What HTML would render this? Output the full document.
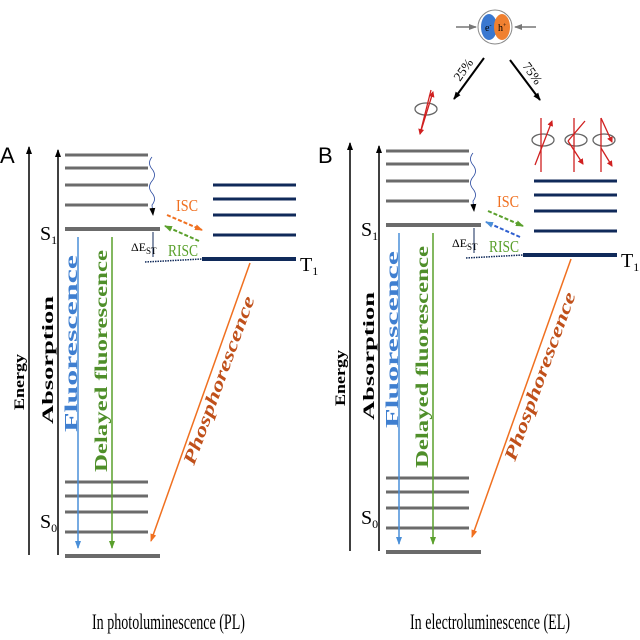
<!DOCTYPE html>
<html><head><meta charset="utf-8"><style>
html,body{margin:0;padding:0;background:#fff;width:640px;height:640px;overflow:hidden;}
svg{display:block;font-family:"Liberation Serif",serif;}
</style></head><body>
<svg width="640" height="640" viewBox="0 0 640 640">
<defs>
<marker id="ab" markerWidth="8" markerHeight="8" refX="7" refY="4" orient="auto" markerUnits="userSpaceOnUse"><path d="M0,1 L8,4 L0,7 Z" fill="#000"/></marker>
<marker id="abl" markerWidth="8" markerHeight="8" refX="7" refY="4" orient="auto" markerUnits="userSpaceOnUse"><path d="M0,1 L8,4 L0,7 Z" fill="#4a8fd8"/></marker>
<marker id="ag" markerWidth="8" markerHeight="8" refX="7" refY="4" orient="auto" markerUnits="userSpaceOnUse"><path d="M0,1 L8,4 L0,7 Z" fill="#5aa02c"/></marker>
<marker id="ao" markerWidth="8" markerHeight="8" refX="7" refY="4" orient="auto" markerUnits="userSpaceOnUse"><path d="M0,1 L8,4 L0,7 Z" fill="#f07020"/></marker>
<marker id="ar" markerWidth="6" markerHeight="6" refX="5" refY="3" orient="auto" markerUnits="userSpaceOnUse"><path d="M0,0 L6,3 L0,6 Z" fill="#d02020"/></marker>
<marker id="agr" markerWidth="8" markerHeight="8" refX="7" refY="4" orient="auto" markerUnits="userSpaceOnUse"><path d="M0,1 L8,4 L0,7 Z" fill="#777"/></marker>
</defs>

<g>
  <line x1="29" y1="555" x2="29" y2="147" stroke="#000" stroke-width="1.5" marker-end="url(#ab)"/>
  <line x1="58" y1="555" x2="58" y2="150" stroke="#000" stroke-width="1.5" marker-end="url(#ab)"/>
  <text transform="translate(24,410) rotate(-90)" font-size="15" font-weight="bold" textLength="56" lengthAdjust="spacingAndGlyphs">Energy</text>
  <text transform="translate(53,424) rotate(-90)" font-size="16" font-weight="bold" textLength="128" lengthAdjust="spacingAndGlyphs">Absorption</text>
  <g stroke="#6b6b6b" stroke-width="3">
    <line x1="65" y1="155" x2="148" y2="155"/><line x1="65" y1="168" x2="148" y2="168"/>
    <line x1="65" y1="185" x2="148" y2="185"/><line x1="65" y1="205" x2="148" y2="205"/>
    <line x1="65" y1="229" x2="160" y2="229" stroke-width="4"/>
    <line x1="65" y1="482" x2="148" y2="482"/><line x1="65" y1="496" x2="148" y2="496"/>
    <line x1="65" y1="512" x2="148" y2="512"/><line x1="65" y1="532" x2="148" y2="532"/>
    <line x1="65" y1="556" x2="160" y2="556" stroke-width="4"/>
  </g>
  <text x="40" y="240" font-size="20">S<tspan font-size="12" dy="4">1</tspan></text>
  <text x="40" y="528" font-size="20">S<tspan font-size="12" dy="4">0</tspan></text>
  <path d="M152,157 q-5,6 0,12 q5,6 0,12 q-5,6 0,12 q5,6 0,12 l1,10" fill="none" stroke="#2a4aa0" stroke-width="0.8" marker-end="url(#ab)"/>
  <line x1="78" y1="237" x2="78" y2="548" stroke="#4a8fd8" stroke-width="1.5" marker-end="url(#abl)"/>
  <line x1="112" y1="237" x2="112" y2="548" stroke="#5aa02c" stroke-width="1.5" marker-end="url(#ag)"/>
  <text transform="translate(77,432) rotate(-90)" font-size="18" font-weight="bold" fill="#3f7fd0" textLength="177" lengthAdjust="spacingAndGlyphs">Fluorescence</text>
  <text transform="translate(107,472) rotate(-90)" font-size="18" font-weight="bold" fill="#4f8f2a" textLength="222" lengthAdjust="spacingAndGlyphs">Delayed fluorescence</text>
  <g stroke="#102a5a" stroke-width="3">
    <line x1="213" y1="185" x2="296" y2="185"/><line x1="213" y1="199" x2="296" y2="199"/>
    <line x1="213" y1="215" x2="296" y2="215"/><line x1="213" y1="235" x2="296" y2="235"/>
    <line x1="202" y1="259" x2="296" y2="259" stroke-width="4"/>
  </g>
  <text x="300" y="271" font-size="20">T<tspan font-size="12" dy="4">1</tspan></text>
  <line x1="145" y1="262" x2="202" y2="259" stroke="#102a5a" stroke-width="1.5" stroke-dasharray="1.5,1"/>
  <line x1="153" y1="232" x2="153" y2="257" stroke="#102a5a" stroke-width="1"/>
  <text x="131" y="251" font-size="12">ΔE<tspan font-size="9" dy="3">ST</tspan></text>
  <line x1="167" y1="215" x2="202" y2="230" stroke="#f07020" stroke-width="2" stroke-dasharray="4,2" marker-end="url(#ao)"/>
  <line x1="199" y1="241" x2="165" y2="226" stroke="#5aa02c" stroke-width="2" stroke-dasharray="4,2" marker-end="url(#ag)"/>
  <text x="176" y="211" font-size="17" fill="#f07020" textLength="22" lengthAdjust="spacingAndGlyphs">ISC</text>
  <text x="168" y="256" font-size="17" fill="#5aa02c" textLength="30" lengthAdjust="spacingAndGlyphs">RISC</text>
  <line x1="250" y1="263" x2="151" y2="541" stroke="#f07020" stroke-width="1.5" marker-end="url(#ao)"/>
  <text transform="translate(194,466) rotate(-70)" font-size="18" font-weight="bold" font-style="italic" fill="#c0501a" textLength="178" lengthAdjust="spacingAndGlyphs">Phosphorescence</text>
</g>
<text x="0" y="163" font-family="Liberation Sans,sans-serif" font-size="22">A</text>
<text x="92" y="629" font-size="22" textLength="153" lengthAdjust="spacingAndGlyphs">In photoluminescence (PL)</text>

<g transform="translate(321,-4)">
  <line x1="29" y1="555" x2="29" y2="147" stroke="#000" stroke-width="1.5" marker-end="url(#ab)"/>
  <line x1="58" y1="555" x2="58" y2="150" stroke="#000" stroke-width="1.5" marker-end="url(#ab)"/>
  <text transform="translate(24,410) rotate(-90)" font-size="15" font-weight="bold" textLength="56" lengthAdjust="spacingAndGlyphs">Energy</text>
  <text transform="translate(53,424) rotate(-90)" font-size="16" font-weight="bold" textLength="128" lengthAdjust="spacingAndGlyphs">Absorption</text>
  <g stroke="#6b6b6b" stroke-width="3">
    <line x1="65" y1="155" x2="148" y2="155"/><line x1="65" y1="168" x2="148" y2="168"/>
    <line x1="65" y1="185" x2="148" y2="185"/><line x1="65" y1="205" x2="148" y2="205"/>
    <line x1="65" y1="229" x2="160" y2="229" stroke-width="4"/>
    <line x1="65" y1="482" x2="148" y2="482"/><line x1="65" y1="496" x2="148" y2="496"/>
    <line x1="65" y1="512" x2="148" y2="512"/><line x1="65" y1="532" x2="148" y2="532"/>
    <line x1="65" y1="556" x2="160" y2="556" stroke-width="4"/>
  </g>
  <text x="40" y="240" font-size="20">S<tspan font-size="12" dy="4">1</tspan></text>
  <text x="40" y="528" font-size="20">S<tspan font-size="12" dy="4">0</tspan></text>
  <path d="M152,157 q-5,6 0,12 q5,6 0,12 q-5,6 0,12 q5,6 0,12 l1,10" fill="none" stroke="#2a4aa0" stroke-width="0.8" marker-end="url(#ab)"/>
  <line x1="78" y1="237" x2="78" y2="548" stroke="#4a8fd8" stroke-width="1.5" marker-end="url(#abl)"/>
  <line x1="112" y1="237" x2="112" y2="548" stroke="#5aa02c" stroke-width="1.5" marker-end="url(#ag)"/>
  <text transform="translate(77,432) rotate(-90)" font-size="18" font-weight="bold" fill="#3f7fd0" textLength="177" lengthAdjust="spacingAndGlyphs">Fluorescence</text>
  <text transform="translate(107,472) rotate(-90)" font-size="18" font-weight="bold" fill="#4f8f2a" textLength="222" lengthAdjust="spacingAndGlyphs">Delayed fluorescence</text>
  <g stroke="#102a5a" stroke-width="3">
    <line x1="213" y1="185" x2="296" y2="185"/><line x1="213" y1="199" x2="296" y2="199"/>
    <line x1="213" y1="215" x2="296" y2="215"/><line x1="213" y1="235" x2="296" y2="235"/>
    <line x1="202" y1="259" x2="296" y2="259" stroke-width="4"/>
  </g>
  <text x="300" y="271" font-size="20">T<tspan font-size="12" dy="4">1</tspan></text>
  <line x1="145" y1="262" x2="202" y2="259" stroke="#102a5a" stroke-width="1.5" stroke-dasharray="1.5,1"/>
  <line x1="153" y1="232" x2="153" y2="257" stroke="#102a5a" stroke-width="1"/>
  <text x="131" y="251" font-size="12">ΔE<tspan font-size="9" dy="3">ST</tspan></text>
  <line x1="167" y1="215" x2="202" y2="230" stroke="#5aa02c" stroke-width="2" stroke-dasharray="4,2" marker-end="url(#ag)"/>
  <line x1="199" y1="241" x2="165" y2="226" stroke="#3060d0" stroke-width="2" stroke-dasharray="4,2" marker-end="url(#abl)"/>
  <text x="176" y="211" font-size="17" fill="#f07020" textLength="22" lengthAdjust="spacingAndGlyphs">ISC</text>
  <text x="168" y="256" font-size="17" fill="#5aa02c" textLength="30" lengthAdjust="spacingAndGlyphs">RISC</text>
  <line x1="250" y1="263" x2="151" y2="541" stroke="#f07020" stroke-width="1.5" marker-end="url(#ao)"/>
  <text transform="translate(194,466) rotate(-70)" font-size="18" font-weight="bold" font-style="italic" fill="#c0501a" textLength="178" lengthAdjust="spacingAndGlyphs">Phosphorescence</text>
</g>
<text x="318" y="163" font-family="Liberation Sans,sans-serif" font-size="22">B</text>
<text x="410" y="629" font-size="22" textLength="160" lengthAdjust="spacingAndGlyphs">In electroluminescence (EL)</text>

<g>
  <line x1="456" y1="27" x2="476" y2="27" stroke="#777" stroke-width="1.5" marker-end="url(#agr)"/>
  <line x1="536" y1="27" x2="515" y2="27" stroke="#777" stroke-width="1.5" marker-end="url(#agr)"/>
  <circle cx="495" cy="27" r="17" fill="#fff" stroke="#888" stroke-width="1"/>
  <ellipse cx="489" cy="27" rx="8" ry="13" fill="#3a78d0"/>
  <ellipse cx="502" cy="27" rx="8" ry="13" fill="#f08030"/>
  <text x="485" y="31" font-size="10">e<tspan font-size="6" dy="-4">-</tspan></text>
  <text x="498" y="31" font-size="10">h<tspan font-size="6" dy="-4">+</tspan></text>
  <line x1="484" y1="58" x2="454" y2="99" stroke="#000" stroke-width="2" marker-end="url(#ab)"/>
  <line x1="510" y1="60" x2="540" y2="100" stroke="#000" stroke-width="2" marker-end="url(#ab)"/>
  <text x="460" y="82" font-size="13" transform="rotate(-55 460 82)">25%</text>
  <text x="522" y="66" font-size="13" transform="rotate(55 522 66)">75%</text>
</g>
<g fill="none" stroke-width="1.3">
  <ellipse cx="426" cy="109" rx="11" ry="6" stroke="#666"/>
  <line x1="431" y1="90" x2="420" y2="134" stroke="#d02020" marker-end="url(#ar)"/>
  <line x1="420" y1="134" x2="433" y2="92" stroke="#d02020" marker-end="url(#ar)"/>
  <ellipse cx="543" cy="140" rx="11" ry="6" stroke="#666"/>
  <line x1="541" y1="118" x2="541" y2="172" stroke="#d02020"/>
  <line x1="535" y1="165" x2="552" y2="121" stroke="#d02020" marker-end="url(#ar)"/>
  <ellipse cx="576" cy="140" rx="11" ry="6" stroke="#666"/>
  <line x1="574" y1="118" x2="574" y2="172" stroke="#d02020"/>
  <line x1="585" y1="121" x2="568" y2="141" stroke="#d02020"/>
  <line x1="568" y1="141" x2="583" y2="164" stroke="#d02020" marker-end="url(#ar)"/>
  <ellipse cx="604" cy="140" rx="11" ry="6" stroke="#666"/>
  <line x1="601" y1="118" x2="601" y2="172" stroke="#d02020"/>
  <line x1="601" y1="118" x2="612" y2="142" stroke="#d02020" marker-end="url(#ar)"/>
  <line x1="601" y1="148" x2="612" y2="166" stroke="#d02020" marker-end="url(#ar)"/>
</g>
</svg>
</body></html>
